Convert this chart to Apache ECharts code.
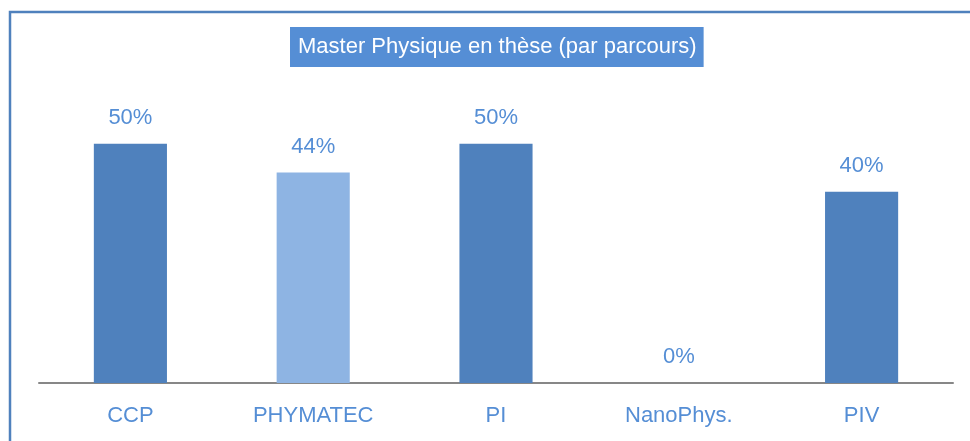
<!DOCTYPE html>
<html><head><meta charset="utf-8">
<script src="https://cdn.jsdelivr.net/npm/echarts@6/dist/echarts.min.js"></script>
<style>html,body{margin:0;padding:0;background:#fff}#c{width:970px;height:441px}</style>
</head><body><div id="c"></div>
<script>
const categories = ['CCP', 'PHYMATEC', 'PI', 'NanoPhys.', 'PIV'];
const values = [50, 44, 50, 0, 40];
const barColors = ['#4F81BD', '#8EB4E3', '#4F81BD', '#4F81BD', '#4F81BD'];
const titleText = 'Master Physique en thèse (par parcours)';
const FONT = '"Liberation Sans Narrow", "Arial Narrow", "Liberation Sans", Arial, sans-serif';
const chart = echarts.init(document.getElementById('c'));
chart.setOption({
  animation: false,
  backgroundColor: '#fff',
  title: {
    text: titleText, left: 290, top: 27,
    backgroundColor: '#558ED5', padding: [6, 7, 6, 8],
    textStyle: { color: '#fff', fontFamily: FONT, fontSize: 22, fontWeight: 'normal', lineHeight: 28 }
  },
  graphic: [{
    type: 'rect', shape: { x: 10, y: 12, width: 1000, height: 500 },
    style: { fill: 'none', stroke: '#4F81BD', lineWidth: 2.5 }, silent: true, z: 0
  }],
  grid: { left: 39, right: 17, top: 96, bottom: 58 },
  xAxis: {
    type: 'category', data: categories,
    axisLine: { lineStyle: { color: '#878787', width: 2 } },
    axisTick: { show: false },
    axisLabel: { interval: 0, color: '#558ED5', fontFamily: FONT, fontSize: 22, margin: 22 }
  },
  yAxis: { type: 'value', min: 0, max: 60, show: false, splitLine: { show: false } },
  series: [{
    type: 'bar', barWidth: '40%',
    data: values.map((v, i) => ({ value: v, itemStyle: { color: barColors[i] } })),
    label: { show: true, position: 'top', distance: 15, formatter: '{c}%', color: '#558ED5', fontFamily: FONT, fontSize: 22 }
  }]
});
</script></body></html>
